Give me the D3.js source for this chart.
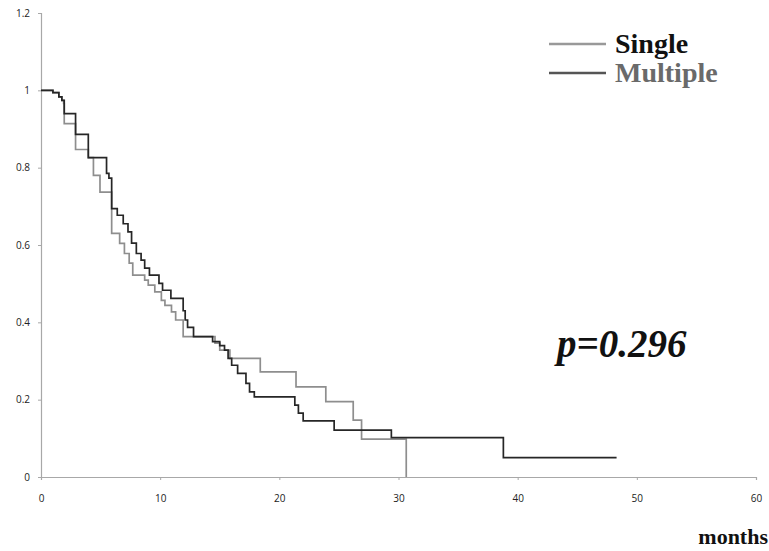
<!DOCTYPE html>
<html lang="en">
    <head>
        <meta charset="utf-8">
        <title>Survival by group</title>
        <script src="https://d3js.org/d3.v7.min.js"></script>
        <style type="text/css">
            body { margin: 0; background: #fff; }
            .tick text { font-family: "Open Sans", sans-serif; font-size: 10px; fill: #222; }
        </style>
    </head>
    <body>
        <script type="text/javascript">

            //1. consts
            const svgW = 769;
            const svgH = 551;
            const plotL = 41, plotR = 756, plotT = 13, plotB = 477;

            //2. data: step points (month, survival)
            const singleMonths = [0, 1.0, 1.5, 1.75, 1.9, 1.95, 2.9, 3.97, 4.4, 4.95, 5.93, 6.6, 7.0, 7.4, 7.7, 8.7, 9.0, 9.55, 10.1, 10.4, 10.95, 11.3, 11.93, 14.6, 15.0, 15.85, 18.4, 21.4, 23.9, 26.2, 26.9, 30.65];
            const singleSurv   = [1.0, 0.994, 0.983, 0.974, 0.966, 0.914, 0.847, 0.826, 0.78, 0.737, 0.63, 0.604, 0.578, 0.553, 0.522, 0.509, 0.496, 0.479, 0.457, 0.444, 0.427, 0.406, 0.363, 0.346, 0.328, 0.307, 0.272, 0.233, 0.195, 0.147, 0.098, 0];

            const multipleMonths = [0, 1.0, 1.5, 1.75, 1.95, 2.9, 3.97, 5.5, 5.7, 5.93, 6.4, 6.9, 7.3, 7.6, 8.0, 8.4, 8.7, 9.1, 9.9, 10.2, 10.9, 11.93, 12.1, 12.3, 12.8, 14.4, 15.0, 15.4, 15.7, 16.0, 16.5, 17.2, 17.5, 17.9, 21.3, 21.6, 22.0, 24.6, 29.4, 38.8, 48.3];
            const multipleSurv   = [1.0, 0.994, 0.983, 0.974, 0.94, 0.886, 0.826, 0.785, 0.773, 0.694, 0.677, 0.655, 0.634, 0.605, 0.578, 0.561, 0.54, 0.522, 0.501, 0.483, 0.462, 0.43, 0.406, 0.387, 0.363, 0.35, 0.34, 0.328, 0.307, 0.289, 0.268, 0.242, 0.22, 0.207, 0.186, 0.165, 0.145, 0.121, 0.102, 0.05, 0.05];

            const xTicks = [0, 10, 20, 30, 40, 50, 60];
            const yTicks = [0, 0.2, 0.4, 0.6, 0.8, 1, 1.2];
            const seriesNames = ["Single", "Multiple"];
            const pValue = "p=0.296";

            //3. scales
            const xScale = d3.scaleLinear().domain([0, 60]).range([plotL, plotR]);
            const yScale = d3.scaleLinear().domain([0, 1.2]).range([plotB, plotT]);

            //4. svg
            const svg = d3.select("body")
                        .append("svg")
                        .attr("width", svgW)
                        .attr("height", svgH);

            //axes
            const xAxis = svg.append("g")
                .attr("transform", "translate(0," + plotB + ")")
                .call(d3.axisBottom(xScale).tickValues(xTicks).tickSize(3).tickPadding(15).tickFormat(d3.format("d")));
            const yAxis = svg.append("g")
                .attr("transform", "translate(" + plotL + ",0)")
                .call(d3.axisLeft(yScale).tickValues(yTicks).tickSize(3).tickPadding(8).tickFormat(d => d));
            [xAxis, yAxis].forEach(g => {
                g.select(".domain").attr("stroke", "#a8a8a8").attr("stroke-width", 1.2);
                g.selectAll(".tick line").attr("stroke", "#a8a8a8");
            });

            //curves
            const line = d3.line()
                .x(d => xScale(d[0]))
                .y(d => yScale(d[1]))
                .curve(d3.curveStepAfter);

            const series = [
                {name: seriesNames[0], pts: d3.zip(singleMonths, singleSurv), color: "#8e8e8e"},
                {name: seriesNames[1], pts: d3.zip(multipleMonths, multipleSurv), color: "#262626"}
            ];

            svg.selectAll("path.curve")
                .data(series)
                .enter()
                .append("path")
                .attr("class", "curve")
                .attr("d", d => line(d.pts))
                .attr("fill", "none")
                .attr("stroke", d => d.color)
                .attr("stroke-width", 1.7);

            //legend
            const legendColors = ["#999", "#555"];
            const legendText = ["#111", "#6a6a6a"];
            const legend = svg.selectAll("g.legend")
                .data(seriesNames)
                .enter()
                .append("g")
                .attr("class", "legend")
                .attr("transform", (d, i) => "translate(549," + (44 + i * 29) + ")");
            legend.append("line")
                .attr("x1", 0).attr("x2", 57)
                .attr("stroke", (d, i) => legendColors[i])
                .attr("stroke-width", 2.5);
            legend.append("text")
                .attr("x", 66).attr("y", 9)
                .attr("font-family", "'Liberation Serif', serif")
                .attr("font-weight", "bold")
                .attr("font-size", "28px")
                .attr("fill", (d, i) => legendText[i])
                .text(d => d);

            //p value
            svg.append("text")
                .attr("x", 557).attr("y", 357)
                .attr("font-family", "'Liberation Serif', serif")
                .attr("font-weight", "bold")
                .attr("font-style", "italic")
                .attr("font-size", "39px")
                .attr("fill", "#111")
                .text(pValue);

            //x label
            svg.append("text")
                .attr("x", 768).attr("y", 544)
                .attr("text-anchor", "end")
                .attr("font-family", "'Liberation Serif', serif")
                .attr("font-weight", "bold")
                .attr("font-size", "22px")
                .attr("fill", "#111")
                .text("months");

        </script>
    </body>
</html>
